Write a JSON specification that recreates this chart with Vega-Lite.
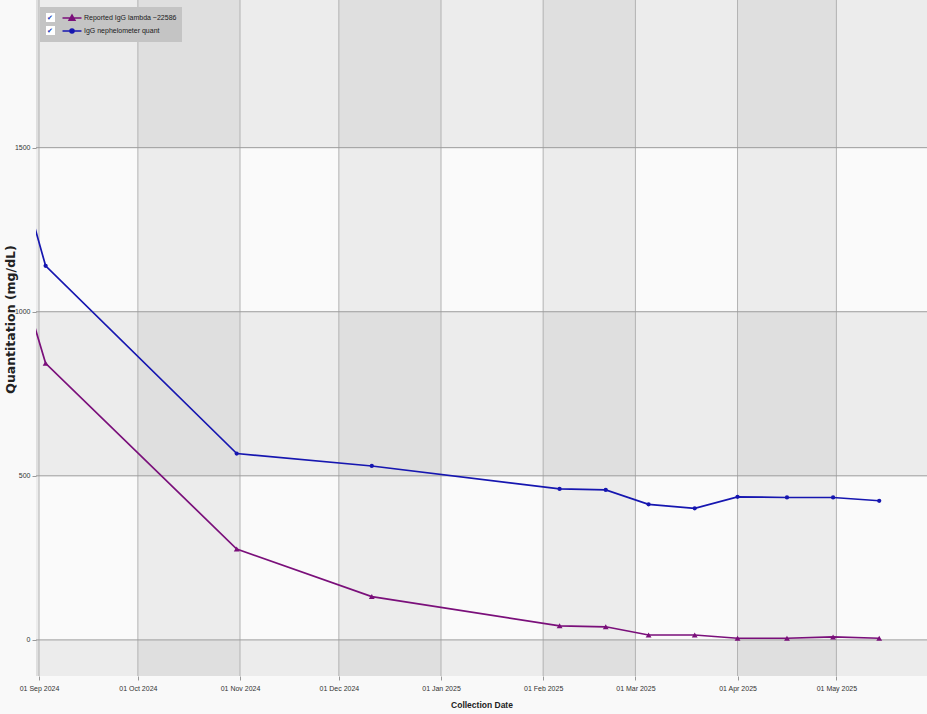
{
  "$schema": "https://vega.github.io/schema/vega-lite/v6.json",
  "width": 891,
  "height": 676,
  "autosize": {"type": "none"},
  "padding": {"left": 36, "top": 0, "right": 0, "bottom": 38},
  "background": "#f9f9f9",
  "config": {
    "view": {"stroke": null, "fill": "#fafafa"},
    "axis": {
      "labelFont": "Liberation Sans",
      "labelFontSize": 7,
      "labelColor": "#333333",
      "tickColor": "#9a9a9a",
      "tickSize": 4,
      "domain": false,
      "grid": false
    }
  },
  "datasets": {
    "obs": [
      {"date": "2024-08-29", "series": "Reported IgG lambda ~22586", "value": 1012},
      {"date": "2024-09-03", "series": "Reported IgG lambda ~22586", "value": 843},
      {"date": "2024-10-31", "series": "Reported IgG lambda ~22586", "value": 277},
      {"date": "2024-12-11", "series": "Reported IgG lambda ~22586", "value": 132},
      {"date": "2025-02-06", "series": "Reported IgG lambda ~22586", "value": 43},
      {"date": "2025-02-20", "series": "Reported IgG lambda ~22586", "value": 40},
      {"date": "2025-03-05", "series": "Reported IgG lambda ~22586", "value": 15},
      {"date": "2025-03-19", "series": "Reported IgG lambda ~22586", "value": 15},
      {"date": "2025-04-01", "series": "Reported IgG lambda ~22586", "value": 5},
      {"date": "2025-04-16", "series": "Reported IgG lambda ~22586", "value": 5},
      {"date": "2025-04-30", "series": "Reported IgG lambda ~22586", "value": 9},
      {"date": "2025-05-14", "series": "Reported IgG lambda ~22586", "value": 5},
      {"date": "2024-08-29", "series": "IgG nephelometer quant", "value": 1318},
      {"date": "2024-09-03", "series": "IgG nephelometer quant", "value": 1140},
      {"date": "2024-10-31", "series": "IgG nephelometer quant", "value": 568},
      {"date": "2024-12-11", "series": "IgG nephelometer quant", "value": 530},
      {"date": "2025-02-06", "series": "IgG nephelometer quant", "value": 460},
      {"date": "2025-02-20", "series": "IgG nephelometer quant", "value": 457},
      {"date": "2025-03-05", "series": "IgG nephelometer quant", "value": 413},
      {"date": "2025-03-19", "series": "IgG nephelometer quant", "value": 401},
      {"date": "2025-04-01", "series": "IgG nephelometer quant", "value": 436},
      {"date": "2025-04-16", "series": "IgG nephelometer quant", "value": 434},
      {"date": "2025-04-30", "series": "IgG nephelometer quant", "value": 434},
      {"date": "2025-05-14", "series": "IgG nephelometer quant", "value": 424}
    ],
    "monthBands": [
      {"start": "2024-08-01", "end": "2024-09-01"},
      {"start": "2024-10-01", "end": "2024-11-01"},
      {"start": "2024-12-01", "end": "2025-01-01"},
      {"start": "2025-02-01", "end": "2025-03-01"},
      {"start": "2025-04-01", "end": "2025-05-01"}
    ],
    "valueBands": [
      {"lo": -110, "hi": 0},
      {"lo": 500, "hi": 1000},
      {"lo": 1500, "hi": 1950}
    ],
    "monthStarts": [
      {"date": "2024-09-01"}, {"date": "2024-10-01"}, {"date": "2024-11-01"},
      {"date": "2024-12-01"}, {"date": "2025-01-01"}, {"date": "2025-02-01"},
      {"date": "2025-03-01"}, {"date": "2025-04-01"}, {"date": "2025-05-01"}
    ],
    "levels": [{"v": 0}, {"v": 500}, {"v": 1000}, {"v": 1500}]
  },
  "layer": [
    {
      "data": {"name": "valueBands"},
      "mark": {"type": "rect", "fill": "#000000", "opacity": 0.055},
      "encoding": {
        "y": {"field": "lo", "type": "quantitative", "scale": {"domain": [-110, 1950], "nice": false, "zero": false}, "title": "Quantitation (mg/dL)"},
        "y2": {"field": "hi"}
      }
    },
    {
      "data": {"name": "monthBands"},
      "mark": {"type": "rect", "fill": "#000000", "opacity": 0.055, "clip": true},
      "encoding": {
        "x": {"field": "start", "type": "temporal", "title": "Collection Date"},
        "x2": {"field": "end"}
      }
    },
    {
      "data": {"name": "monthStarts"},
      "mark": {"type": "rule", "stroke": "#b2b2b2", "strokeWidth": 1},
      "encoding": {
        "x": {"field": "date", "type": "temporal", "title": "Collection Date"}
      }
    },
    {
      "data": {"name": "levels"},
      "mark": {"type": "rule", "stroke": "#9c9c9c", "strokeWidth": 1},
      "encoding": {
        "y": {"field": "v", "type": "quantitative", "title": "Quantitation (mg/dL)"}
      }
    },
    {
      "data": {"name": "obs"},
      "mark": {"type": "line", "strokeWidth": 1.7, "clip": true},
      "encoding": {
        "x": {
          "field": "date", "type": "temporal", "title": "Collection Date",
          "scale": {
            "type": "utc",
            "domain": [
              {"year": 2024, "month": 8, "date": 31, "hours": 2, "utc": true},
              {"year": 2025, "month": 5, "date": 28, "hours": 12, "utc": true}
            ]
          },
          "axis": {
            "values": [
              {"year": 2024, "month": 9, "date": 1, "utc": true},
              {"year": 2024, "month": 10, "date": 1, "utc": true},
              {"year": 2024, "month": 11, "date": 1, "utc": true},
              {"year": 2024, "month": 12, "date": 1, "utc": true},
              {"year": 2025, "month": 1, "date": 1, "utc": true},
              {"year": 2025, "month": 2, "date": 1, "utc": true},
              {"year": 2025, "month": 3, "date": 1, "utc": true},
              {"year": 2025, "month": 4, "date": 1, "utc": true},
              {"year": 2025, "month": 5, "date": 1, "utc": true}
            ],
            "format": "%d %b %Y",
            "labelPadding": 4,
            "labelFlush": false,
            "labelOverlap": false,
            "titleFont": "Liberation Sans",
            "titleFontSize": 8.5,
            "titleFontWeight": "bold",
            "titleColor": "#222222",
            "titleBaseline": "middle",
            "titleY": 28
          }
        },
        "y": {
          "field": "value", "type": "quantitative", "title": "Quantitation (mg/dL)",
          "axis": {
            "values": [0, 500, 1000, 1500],
            "format": "d",
            "labelPadding": 2,
            "labelFlush": false,
            "titleFont": "DejaVu Sans",
            "titleFontSize": 12.5,
            "titleFontWeight": "bold",
            "titleColor": "#222222",
            "titleBaseline": "middle",
            "titleAngle": -90,
            "titleX": -26,
            "titleY": 319
          }
        },
        "color": {
          "field": "series", "type": "nominal",
          "scale": {"domain": ["Reported IgG lambda ~22586", "IgG nephelometer quant"], "range": ["#7a0f7a", "#1616b0"]},
          "legend": {
            "title": null,
            "orient": "none",
            "legendX": 4,
            "legendY": 7,
            "zindex": 1,
            "fillColor": "#c4c4c4",
            "padding": 5,
            "rowPadding": 1,
            "symbolSize": 90,
            "symbolOffset": 21,
            "labelOffset": 6,
            "symbolStrokeWidth": 1.6,
            "labelFont": "Liberation Sans",
            "labelFontSize": 7,
            "labelColor": "#1a1a1a",
            "encode": {
              "symbols": {
                "update": {
                  "shape": {"signal": "datum.value == 'IgG nephelometer quant' ? 'M-2,0H2M-0.42,0A0.42,0.42 0 1,0 0.42,0A0.42,0.42 0 1,0 -0.42,0Z' : 'M-2,0H2M-0.6,0.45L0,-0.6L0.6,0.45Z'"},
                  "fill": {"scale": "color", "field": "value"},
                  "stroke": {"scale": "color", "field": "value"},
                  "opacity": {"value": 1}
                }
              }
            }
          }
        }
      }
    },
    {
      "data": {"name": "obs"},
      "mark": {"type": "point", "size": 1, "opacity": 0, "filled": true, "color": "#ffffff", "clip": true},
      "encoding": {
        "x": {"field": "date", "type": "temporal", "title": "Collection Date"},
        "y": {"field": "value", "type": "quantitative", "title": "Quantitation (mg/dL)"},
        "shape": {
          "field": "series", "type": "nominal",
          "scale": {"domain": ["IgG nephelometer quant", "Reported IgG lambda ~22586"], "range": ["square", "square"]},
          "legend": {
            "title": null,
            "orient": "top-left",
            "offset": 7,
            "zindex": 2,
            "padding": 5,
            "rowPadding": -2,
            "symbolSize": 81,
            "symbolType": "square",
            "symbolFillColor": "#ffffff",
            "symbolStrokeColor": "#8a8a8a",
            "symbolOffset": -3,
            "labelOffset": -9,
            "labelExpr": "'✔'",
            "labelFont": "DejaVu Sans",
            "labelFontSize": 7,
            "labelFontWeight": "bold",
            "labelColor": "#1a3ab8",
            "encode": {
              "symbols": {
                "update": {
                  "size": {"value": 81},
                  "fill": {"value": "#ffffff"},
                  "fillOpacity": {"value": 1},
                  "stroke": {"value": "#8a8a8a"},
                  "strokeWidth": {"value": 0.7},
                  "opacity": {"value": 1}
                }
              },
              "labels": {
                "update": {"opacity": {"value": 1}}
              }
            }
          }
        }
      }
    },
    {
      "data": {"name": "obs"},
      "transform": [{"filter": "datum.series == 'Reported IgG lambda ~22586'"}],
      "mark": {"type": "point", "shape": "triangle-up", "size": 34, "filled": true, "opacity": 1, "clip": true},
      "encoding": {
        "x": {"field": "date", "type": "temporal", "title": "Collection Date"},
        "y": {"field": "value", "type": "quantitative", "title": "Quantitation (mg/dL)"},
        "color": {"field": "series", "type": "nominal", "legend": null}
      }
    },
    {
      "data": {"name": "obs"},
      "transform": [{"filter": "datum.series == 'IgG nephelometer quant'"}],
      "mark": {"type": "point", "shape": "circle", "size": 18, "filled": true, "opacity": 1, "clip": true},
      "encoding": {
        "x": {"field": "date", "type": "temporal", "title": "Collection Date"},
        "y": {"field": "value", "type": "quantitative", "title": "Quantitation (mg/dL)"},
        "color": {"field": "series", "type": "nominal", "legend": null}
      }
    }
  ]
}
